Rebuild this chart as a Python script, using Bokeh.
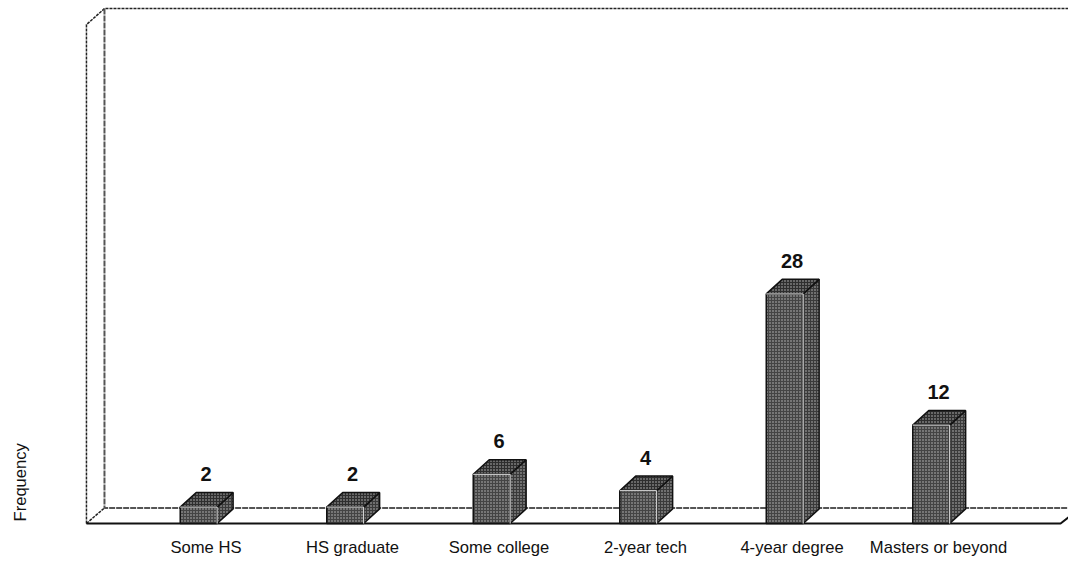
from bokeh.plotting import figure
from bokeh.embed import file_html
from bokeh.resources import INLINE
from bokeh.core.properties import value
from bokeh.models import Title, FixedTicker

categories = ["Some HS", "HS graduate", "Some college", "2-year tech", "4-year degree", "Masters or beyond"]
frequency = [2, 2, 6, 4, 28, 12]

FONT = "Liberation Sans"
half = 0.126
dx, dy = 0.109, 1.78
shift = -0.05
xs_i = list(range(len(categories)))
bars = [i + shift for i in xs_i]

p = figure(width=1068, height=561, output_backend="svg", toolbar_location=None,
           x_range=(-0.843, 5.887), y_range=(-0.488, 63.3),
           min_border_left=82, min_border_right=0, min_border_top=4, min_border_bottom=34,
           outline_line_color=None, background_fill_color="white", border_fill_color="white")
p.grid.visible = False
p.yaxis.visible = False

ax = p.xaxis[0]
ax.ticker = FixedTicker(ticks=xs_i)
ax.major_label_overrides = {i: c for i, c in enumerate(categories)}
ax.axis_line_color = None
ax.major_tick_line_color = None
ax.minor_tick_line_color = None
ax.major_tick_out = 0
ax.major_tick_in = 0
ax.major_label_text_font = FONT
ax.major_label_text_font_size = "16.6px"
ax.major_label_text_color = "#111111"
ax.major_label_standoff = 10

# 3D walls and floor
fx, bx, fy, by, top, ftop, right, fright = -0.816, -0.693, 0.0, 1.9, 62.8, 60.85, 5.887, 5.833
wall = dict(line_color="#222222", line_width=1.5, line_dash="3 1")
p.line([fx, fx, bx, right], [fy, ftop, top, top], **wall)
p.line([bx, bx, right], [top, by, by], line_color="#555555", line_width=2, line_dash="6 1")
p.line([fx, bx], [fy, by], **wall)
p.line([fx, fright, right], [fy, fy, 0.75], line_color="#111111", line_width=2)

# bars
dark = "#444444"
hatch = dict(hatch_pattern="dot", hatch_color="#d0d0d0", hatch_alpha=0.9, hatch_scale=3, hatch_weight=1)
p.patches([[b + half, b + half + dx, b + half + dx, b + half] for b in bars],
          [[0, dy, v + dy, v] for v in frequency],
          fill_color="#3a3a3a", line_color="#111111", line_width=1.5, **hatch)
p.patches([[b - half, b - half + dx, b + half + dx, b + half] for b in bars],
          [[v, v + dy, v + dy, v] for v in frequency],
          fill_color="#2e2e2e", line_color="#111111", line_width=1.5, **hatch)
p.quad(left=[b - half for b in bars], right=[b + half for b in bars],
       bottom=[0] * len(bars), top=frequency,
       fill_color=dark, line_color="#111111", line_width=1.5, **hatch)
p.multi_line([[b - half, b + half, b + half] for b in bars],
             [[v, v, 0] for v in frequency], line_color="#f0f0f0", line_width=1)

# value labels
p.text(x=xs_i, y=[v + 4.03 for v in frequency], text=[str(v) for v in frequency],
       text_font=value(FONT), text_font_style="bold", text_font_size="20px",
       text_align="center", text_baseline="middle", text_color="#111111")

p.add_layout(Title(text=" ", text_font_size="10px", standoff=40), "left")
p.add_layout(Title(text="Frequency", align="left", offset=6, text_font=FONT, text_font_size="16.6px",
                   text_font_style="normal", text_color="#111111", standoff=0), "left")

open("out.html", "w").write(file_html(p, INLINE))
